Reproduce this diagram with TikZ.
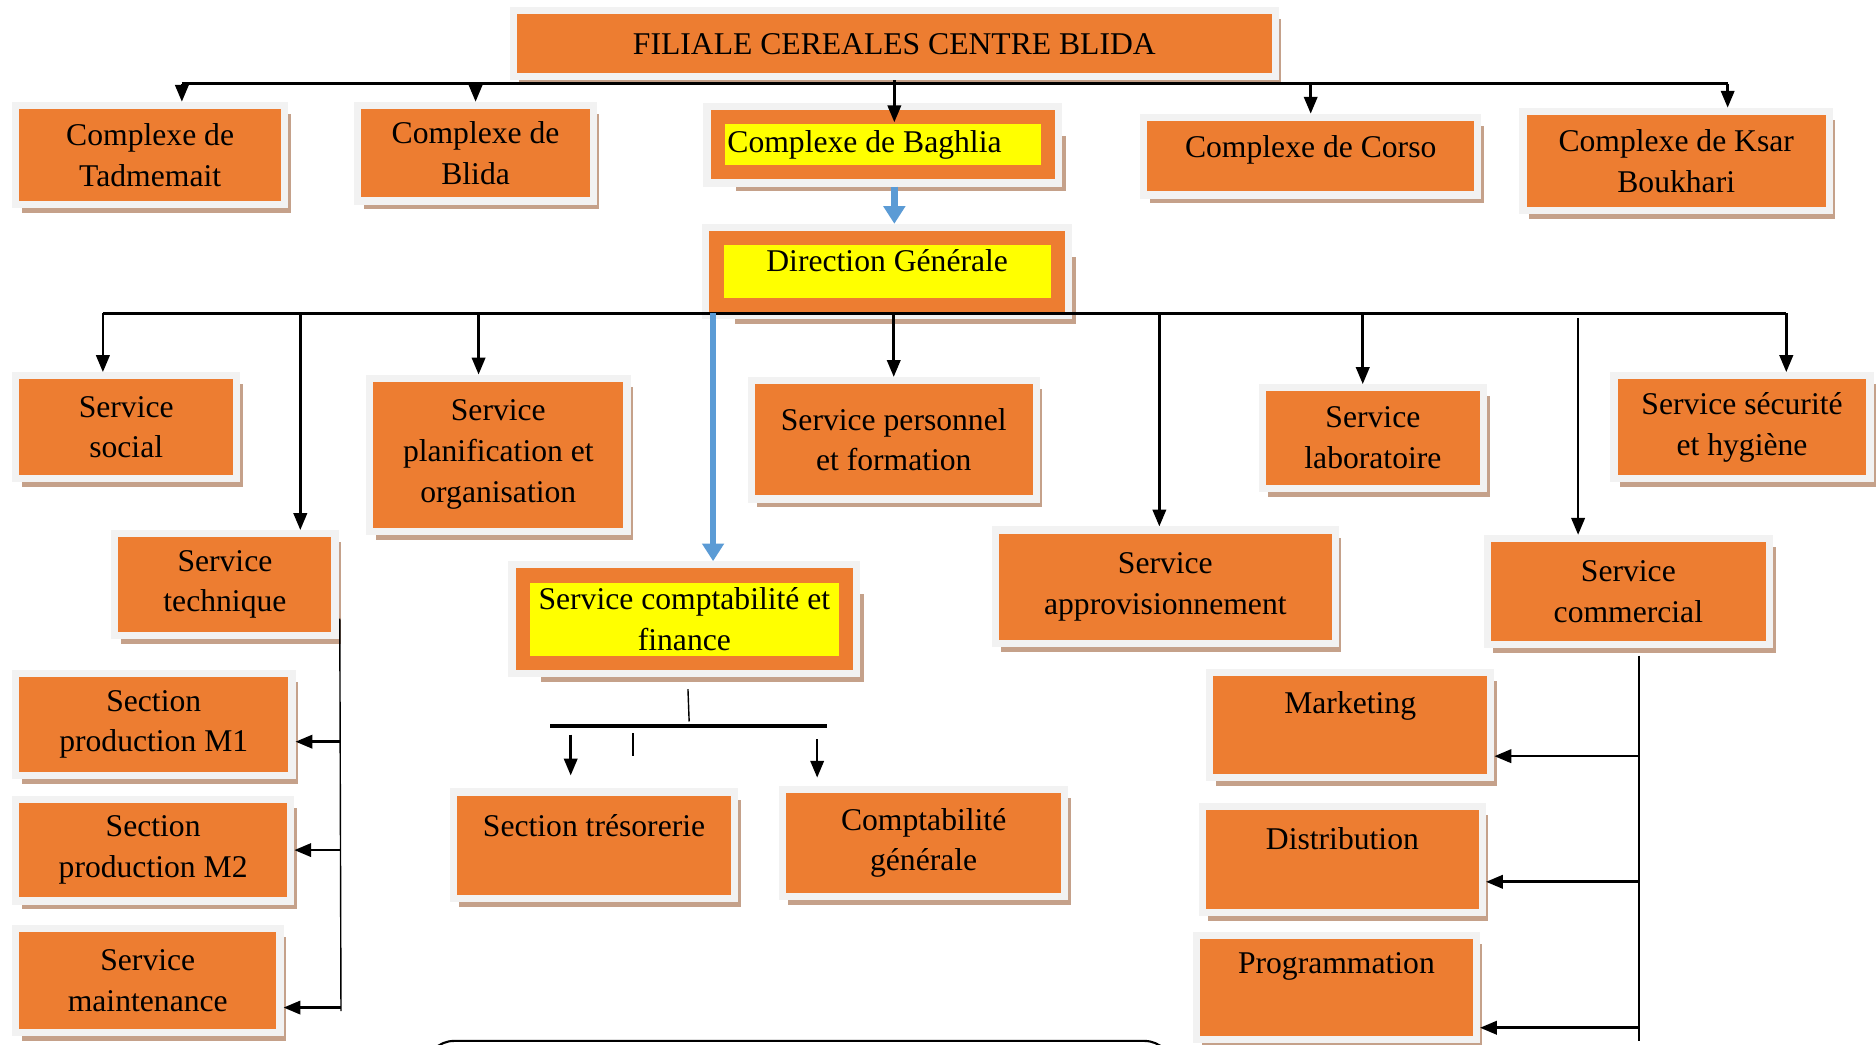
\documentclass[tikz,border=0pt]{standalone}
\usepackage{fontspec}
\setmainfont{Liberation Serif}
\usetikzlibrary{arrows.meta,shadows}
\definecolor{orangeC}{RGB}{237,125,49}
\definecolor{frameG}{RGB}{242,242,242}
\definecolor{shadowT}{RGB}{197,161,138}
\definecolor{blueC}{RGB}{91,155,213}
\definecolor{yellowC}{RGB}{255,255,0}

\begin{document}
\begin{tikzpicture}[x=0.011964cm, y=-0.011964cm,
        unit/.style={fill=orangeC, draw=frameG, line width=2.04pt, align=center, inner sep=2pt,
            font=\fontsize{9}{11.6}\selectfont,
            drop shadow={shadow xshift=1.7pt, shadow yshift=-2.4pt, fill=shadowT, opacity=1}},
        hl/.style={fill=yellowC, draw=orangeC, line width=4.08pt, outer sep=4.08pt, align=center, inner sep=2pt,
            font=\fontsize{9}{11.6}\selectfont,
            drop shadow={shadow xshift=5.1pt, shadow yshift=-5.4pt, fill=shadowT, opacity=1},
            preaction={draw=frameG, line width=8.17pt}},
        box/.style 2 args={minimum width=#1*0.3404pt, minimum height=#2*0.3404pt},
        lift/.style={text depth=#1},
        arr/.style={line width=0.75pt, -{Triangle[length=4.8pt,width=3.8pt]}},
        barr/.style={draw=blueC, line width=1.8pt, -{Triangle[length=5pt,width=6pt]}},
        bus/.style={line width=0.85pt}]
    \useasboundingbox (0,0) rectangle (1568,873);

    % --- Draw filiale and complexes ---
    \node[unit, box={637}{55}] (filiale) at (747.5,36.5) {FILIALE CEREALES CENTRE BLIDA};
    \node[unit, box={225}{83}] (tadmemait) at (125.5,129.5) {Complexe de\\Tadmemait};
    \node[unit, box={197}{80}] (blida) at (397.5,128) {Complexe de\\Blida};
    \node[hl, box={276}{46}, text width=88.5pt, inner xsep=2.72pt, align=flush left] (baghlia) at (738,121) {Complexe de Baghlia};
    \node[unit, box={279}{65}, lift=5.7pt] (corso) at (1095.5,130.5) {Complexe de Corso};
    \node[unit, box={256}{83}] (ksar) at (1401,134.5) {Complexe de Ksar\\Boukhari};
    \node[hl, box={285}{56}, lift=6.1pt] (direction) at (741.5,227) {Direction Générale};
    % ---

    % --- Draw services ---
    \node[unit, box={185}{86}] (social) at (105.5,357) {Service\\social};
    \node[unit, box={215}{128}] (planif) at (416.5,380) {Service\\planification et\\organisation};
    \node[unit, box={238}{99}] (personnel) at (747,367.5) {Service personnel\\et formation};
    \node[unit, box={185}{84}] (labo) at (1147.5,366) {Service\\laboratoire};
    \node[unit, box={214}{86}] (securite) at (1456,357) {Service sécurité\\et hygiène};
    \node[unit, box={184}{85}] (technique) at (188,488.5) {Service\\technique};
    \node[hl, box={270}{73}] (compta) at (572,517.5) {Service comptabilité et\\finance};
    \node[unit, box={284}{95}] (appro) at (974,490.5) {Service\\approvisionnement};
    \node[unit, box={236}{89}] (commercial) at (1361,494.5) {Service\\commercial};
    % ---

    % --- Draw sections ---
    \node[unit, box={231}{85}] (m1) at (128.5,605.5) {Section\\production M1};
    \node[unit, box={230}{85}] (m2) at (128,710.5) {Section\\production M2};
    \node[unit, box={221}{87}] (maint) at (123.5,819.5) {Service\\maintenance};
    \node[unit, box={235}{89}, lift=11.2pt] (tresor) at (496.5,706.5) {Section trésorerie};
    \node[unit, box={236}{89}] (generale) at (772,704.5) {Comptabilité\\générale};
    \node[unit, box={235}{88}, lift=12.9pt] (marketing) at (1128.5,606) {Marketing};
    \node[unit, box={234}{89}, lift=11.9pt] (distrib) at (1122,718.5) {Distribution};
    \node[unit, box={234}{87}, lift=13.9pt] (program) at (1117,825.5) {Programmation};
    % ---

    % --- Draw links from filiale ---
    \coordinate (busL) at (152,70);
    \coordinate (busR) at (1444,70);
    \draw[bus] (busL) -- (busR);
    \draw[arr] (busL) -- (busL |- tadmemait.north);
    \draw[arr] (blida.north |- busL) -- (blida.north);
    \draw[arr, shorten >=-5.5pt] (filiale.south) -- (filiale.south |- baghlia.north);
    \draw[arr] (corso.north |- busL) -- (corso.north);
    \draw[arr] (busR) -- (busR |- ksar.north);
    \draw[barr] (baghlia.south -| filiale.south) -- (direction.north -| filiale.south);
    % ---

    % --- Draw links from direction ---
    \coordinate (dirL) at (86,262);
    \coordinate (dirR) at (1493,262);
    \coordinate (tk) at (251,262);
    \coordinate (pl) at (400,262);
    \coordinate (cf) at (596,262);
    \coordinate (ap) at (969,262);
    \coordinate (lb) at (1139,262);
    \coordinate (cm) at (1319,266);
    \draw[bus] (dirL) -- (dirR);
    \draw[arr] (dirL) -- (dirL |- social.north);
    \draw[arr] (tk) -- (tk |- technique.north);
    \draw[arr] (pl) -- (pl |- planif.north);
    \draw[barr] (cf) -- (cf |- compta.north);
    \draw[arr] (personnel.north |- dirL) -- (personnel.north);
    \draw[arr] (ap) -- (ap |- appro.north);
    \draw[arr] (lb) -- (lb |- labo.north);
    \draw[arr] (cm) -- (cm |- commercial.north);
    \draw[arr] (dirR) -- (dirR |- securite.north);
    % ---

    % --- Draw technique branch ---
    \coordinate (tkA) at (284,517);
    \coordinate (tkB) at (285,845);
    \coordinate (m1in) at ([yshift=-4.9pt]m1.east);
    \coordinate (mtin) at ([yshift=-7.7pt]maint.east);
    \draw (tkA) -- (tkB);
    \draw[arr] (tkA |- m1in) -- (m1in);
    \draw[arr] (tkA |- m2.east) -- (m2.east);
    \draw[arr] (tkB |- mtin) -- (mtin);
    % ---

    % --- Draw compta branch ---
    \coordinate (cpA) at (575,576);
    \coordinate (cpB) at (576,603);
    \coordinate (cpL) at (460,607);
    \coordinate (cpR) at (691,607);
    \coordinate (tick) at (529,613);
    \coordinate (trA) at (477,614);
    \coordinate (cgA) at (683,618);
    \draw (cpA) -- (cpB);
    \draw[line width=1.1pt] (cpL) -- (cpR);
    \draw (tick) -- ++(0,19);
    \draw[arr, shorten >=3.7pt] (trA) -- (trA |- tresor.north);
    \draw[arr, shorten >=2.4pt] (cgA) -- (cgA |- generale.north);
    % ---

    % --- Draw commercial branch ---
    \coordinate (cmA) at (1370,548);
    \coordinate (cmB) at (1370,870);
    \coordinate (mkin) at ([yshift=-8.85pt]marketing.east);
    \coordinate (dsin) at ([yshift=-6.3pt]distrib.east);
    \coordinate (prin) at ([yshift=-11.4pt]program.east);
    \draw (cmA) -- (cmB);
    \draw[arr] (cmA |- mkin) -- (mkin);
    \draw[arr] (cmA |- dsin) -- (dsin);
    \draw[arr] (cmA |- prin) -- (prin);
    % ---

    % --- Draw frame below ---
    \draw[line width=0.6pt, rounded corners=8pt] (356,900) -- (356,870) -- (980,870) -- (980,900);
    % ---
\end{tikzpicture}
\end{document}
